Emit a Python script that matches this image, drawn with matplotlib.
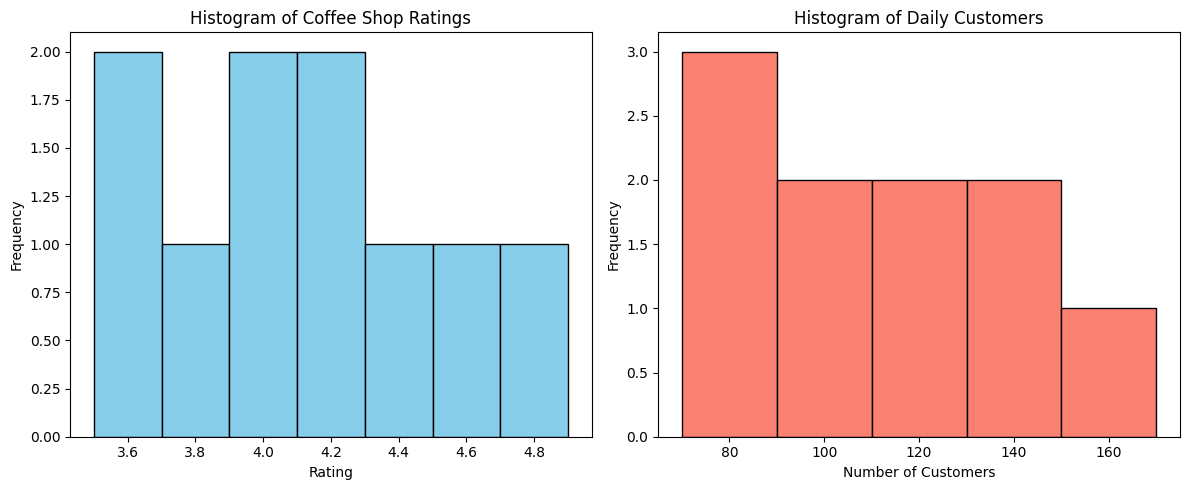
import numpy as np
import matplotlib.pyplot as plt

# coffee shop data
ratings = [3.5, 3.6, 3.8, 4.0, 4.0, 4.2, 4.2, 4.4, 4.6, 4.9]
customers = [70, 80, 85, 95, 100, 115, 120, 135, 140, 170]

fig, axes = plt.subplots(1, 2, figsize=(12, 5))

axes[0].hist(ratings, bins=7, color='skyblue', edgecolor='black')
axes[0].set_title('Histogram of Coffee Shop Ratings')
axes[0].set_xlabel('Rating')
axes[0].set_ylabel('Frequency')

axes[1].hist(customers, bins=5, color='salmon', edgecolor='black')
axes[1].set_title('Histogram of Daily Customers')
axes[1].set_xlabel('Number of Customers')
axes[1].set_ylabel('Frequency')

plt.tight_layout()
plt.savefig('out.png', dpi=100, bbox_inches='tight')
